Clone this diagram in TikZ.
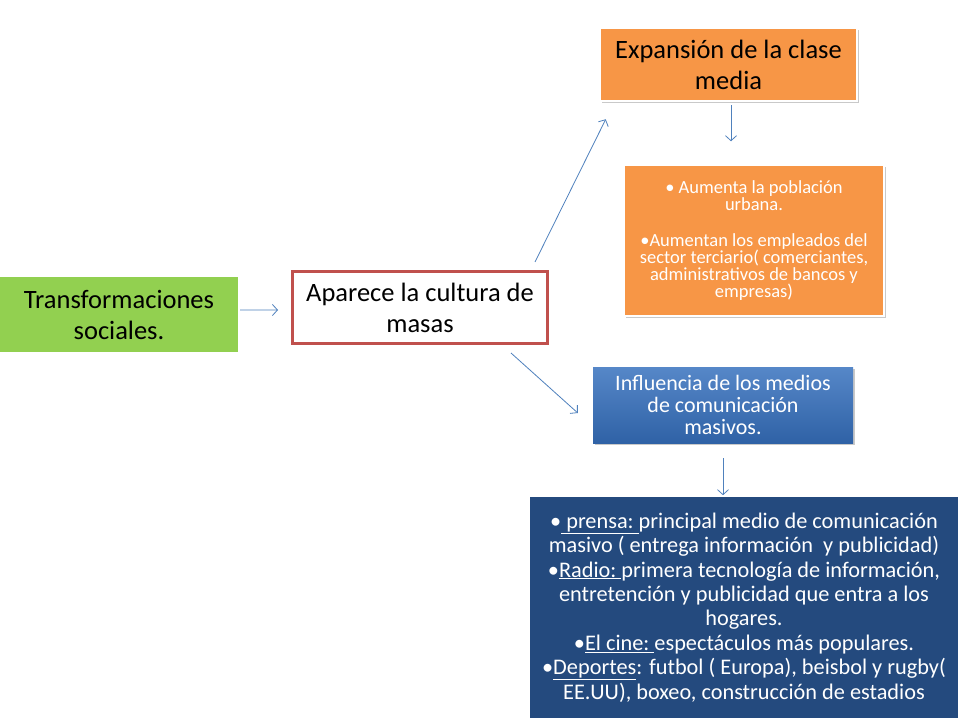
\documentclass[tikz,border=0pt]{standalone}
\usepackage{fontspec}
\setmainfont{Carlito}
\usetikzlibrary{arrows.meta,shadows,calc}
\definecolor{cgreen}{HTML}{92D050}
\definecolor{cred}{HTML}{C0504D}
\definecolor{corange}{HTML}{F79646}
\definecolor{cblueT}{HTML}{5687C8}
\definecolor{cblueB}{HTML}{2F62A6}
\definecolor{cdark}{HTML}{244A7E}
\definecolor{carrow}{HTML}{4F81BD}
\tikzset{
  box/.style={rectangle, inner sep=2bp, align=center, font=\fontsize{26.5bp}{31bp}\selectfont},
  arr/.style={draw=carrow, line width=0.8bp, -{Straight Barb[length=5bp,width=11bp]}},
  softshadow/.style={drop shadow={shadow xshift=1.5bp, shadow yshift=-2bp, opacity=0.35, fill=black!60}},
}
\begin{document}
\begin{tikzpicture}[x=1bp,y=-1bp]
\useasboundingbox (0,0) rectangle (960,720);
\fill[white] (0,0) rectangle (960,720);
% nodes
\node[box, fill=cgreen, minimum width=238bp, minimum height=75bp] (green) at (119,314.5) {Transformaciones\\sociales.};
\node[box, fill=white, draw=cred, line width=3bp, minimum width=255bp, minimum height=72bp] (red) at (420,307.5) {Aparece la cultura de\\masas};
\node[box, fill=corange, draw=white, line width=2.5bp, softshadow, minimum width=257bp, minimum height=73bp] (top) at (728.5,64.5) {Expansión de la clase\\media};
\node[box, fill=corange, draw=white, line width=2.5bp, softshadow, minimum width=260bp, minimum height=151bp, text=white, font=\fontsize{18.5bp}{17bp}\selectfont] (bul) at (754,240.5) {• Aumenta la población\\urbana.\\[19bp]•Aumentan los empleados del\\sector terciario( comerciantes,\\administrativos de bancos y\\empresas)};
\node[box, top color=cblueT, bottom color=cblueB, softshadow, minimum width=260bp, minimum height=76bp, text=white, font=\fontsize{22bp}{21.8bp}\selectfont] (blue) at (723,405) {Influencia de los medios\\de comunicación\\masivos.};
\node[box, fill=cdark, minimum width=428bp, minimum height=221bp, text=white, font=\fontsize{22.3bp}{24.4bp}\selectfont] (dark) at (744,607.5) {•\underline{\ prensa:\ }principal medio de comunicación\\masivo ( entrega información\ \ y publicidad)\\•\underline{Radio:\ }primera tecnología de información,\\entretención y publicidad que entra a los\\hogares.\\•\underline{El cine:\ }espectáculos más populares.\\•\underline{Deportes}: futbol ( Europa), beisbol y rugby(\\EE.UU), boxeo, construcción de estadios};
% connectors
\draw[arr] ($(green.east)+(2,-4.5)$) -- ($(red.west)+(-13,2.5)$);
\draw[arr] ($(red.north east)+(-14,-8)$) -- ($(top.south west)+(7,17)$);
\draw[arr] ($(top.south)+(2.5,3)$) -- ($(top.south)+(2.5,39)$);
\draw[arr] ($(red.south east)+(-38,8)$) -- ($(blue.west)+(-15,8)$);
\draw[arr] ($(blue.south)+(0,15)$) -- ($(blue.south)+(0,52)$);
\end{tikzpicture}
\end{document}
